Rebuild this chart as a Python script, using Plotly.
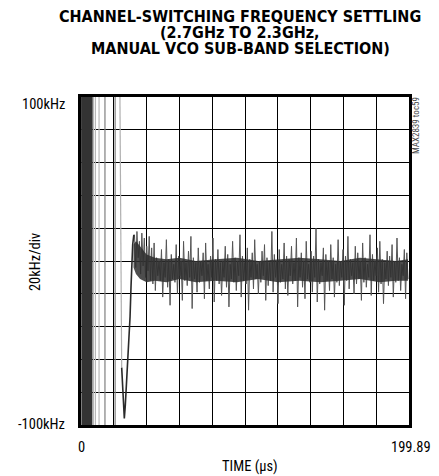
import numpy as np
import plotly.graph_objects as go

# Time axis (us) and frequency error (kHz)
T_END = 199.89

# Fast VCO band search at the start (off-scale swings)
burst_t = [0.6, 0.9, 1.2, 1.5, 1.8, 2.1, 2.4, 2.7, 3.0, 3.3, 3.6, 3.9,
           4.2, 4.5, 4.8, 5.1, 5.4, 5.7, 6.0, 6.3, 6.6]
burst_f = [150, -150, 150, -150, 150, -150, 150, -150, 150, -150, 150, -150,
           150, -150, 150, -150, 150, -150, 150, -150, 150]

swing_light_t = [7.6, 7.6, 8.8, 8.8, 11.0, 11.0]
swing_light_f = [150, -150, -150, 150, 150, -150]

swing_mid_t = [14.6, 14.6, 20.8, 20.8]
swing_mid_f = [150, -150, -150, 150]

# Final drop into the target band (light, fast part)
drop_t = [23.4, 24.0, 24.8]
drop_f = [150, 30, -65]

# Settling transient (dark)
settle_t = [24.8, 25.6, 26.4, 27.0, 28.0, 29.0, 29.9, 30.5, 30.9, 31.5, 32.2]
settle_f = [-65, -82, -96, -88, -70, -50, -34, -15, 0, 10, 16]

# Residual noise after lock
noise_f = [
    16, -4, 18, 2, 12, -8, 17, -3, 14, -10, 9, -6, 15, -12, 8, -14,
    11, -18, 2, -9, 0, -12, 7, -22, -1, -10, 13, -16, 1, -27, 4, -11,
    -2, -13, 10, -20, 3, -9, 0, -24, 12, -12, -1, -15, 6, -10, 15, -29,
    2, -11, -1, -19, 8, -13, 0, -9, 5, -23, 11, -12, -2, -17, 3, -10,
    14, -25, 1, -12, 7, -14, -1, -21, 0, -10, 9, -16, 4, -28, -2, -11,
    12, -13, 2, -18, 0, -9, 16, -22, 3, -12, -1, -14, 8, -30, 1, -10,
    5, -17, 13, -11, -2, -20, 0, -13, 6, -9, 10, -24, 2, -15, -1, -12,
    18, -19, 4, -10, 0, -26, 7, -13, -2, -11, 11, -17, 3, -21, 1, -9,
    9, -14, -1, -12, 14, -28, 2, -10, 5, -16, 0, -23, 12, -11, -2, -13,
    6, -19, 3, -10, 20, -25, 1, -14, -1, -9, 8, -30, 4, -12, 0, -18,
    10, -11, 2, -22, -2, -13, 13, -15, 0, -10, 7, -27, 3, -12, 15, -17,
    1, -9, -1, -20, 9, -14, 5, -11, 0, -24, 11, -13, 2, -16, -2, -10,
    16, -21, 4, -12, 0, -9, 8, -19, 12, -14, 1, -26, -1, -11, 6, -15,
    3, -10, 10, -22, 0, -13, 14, -12, 2, -18, -2, -9, 7, -23, 5, -11,
]
noise_t = np.linspace(32.6, 199.3, len(noise_f))

# Dense core of the noise (envelope)
band_t = [32.0, 33.5, 36, 40, 45, 52, 60, 70, 82, 95, 108, 120, 133,
          146, 158, 170, 182, 192, 199.3]
band_hi = [10, 12, 9, 4, 2, 1, 2, 0, 1, 2, 0, 1, 2,
           1, 0, 2, 1, 0, 1]
band_lo = [-4, -8, -11, -13, -12, -13, -11, -13, -12, -13, -11, -13, -12,
           -13, -12, -11, -13, -12, -12]

LABEL_FONT = "Liberation Sans Narrow, Roboto Condensed, DejaVu Sans Condensed, sans-serif"
TITLE_FONT = "DejaVu Sans Condensed, Liberation Sans, sans-serif"

fig = go.Figure()

fig.add_trace(go.Scatter(x=burst_t, y=burst_f, mode="lines",
                         line=dict(color="#333333", width=2)))
fig.add_trace(go.Scatter(x=swing_light_t, y=swing_light_f, mode="lines",
                         line=dict(color="#b8b8b8", width=1.2)))
fig.add_trace(go.Scatter(x=swing_mid_t, y=swing_mid_f, mode="lines",
                         line=dict(color="#808080", width=1.2)))
fig.add_trace(go.Scatter(x=drop_t, y=drop_f, mode="lines",
                         line=dict(color="#b0b0b0", width=1.2)))
fig.add_trace(go.Scatter(x=noise_t, y=noise_f, mode="lines",
                         line=dict(color="#555555", width=1)))
fig.add_trace(go.Scatter(x=band_t, y=band_hi, mode="lines",
                         line=dict(color="#333333", width=0)))
fig.add_trace(go.Scatter(x=band_t, y=band_lo, mode="lines", fill="tonexty",
                         fillcolor="rgba(46,46,46,0.85)", line=dict(color="#333333", width=0)))
fig.add_trace(go.Scatter(x=settle_t, y=settle_f, mode="lines",
                         line=dict(color="#2a2a2a", width=1.6)))

fig.update_xaxes(range=[0, T_END], dtick=T_END / 10, tick0=0,
                 showgrid=True, gridcolor="black", gridwidth=1,
                 showline=True, mirror=True, linecolor="black", linewidth=3,
                 showticklabels=False, ticks="", zeroline=False)
fig.update_yaxes(range=[-100, 100], dtick=20, tick0=-100,
                 showgrid=True, gridcolor="black", gridwidth=1,
                 showline=True, mirror=True, linecolor="black", linewidth=3,
                 showticklabels=False, ticks="", zeroline=False)

titles = [
    ("<b>CHANNEL-SWITCHING FREQUENCY SETTLING</b>", 1.245),
    ("<b>(2.7GHz TO 2.3GHz,</b>", 1.196),
    ("<b>MANUAL VCO SUB-BAND SELECTION)</b>", 1.147),
]
for text, y in titles:
    fig.add_annotation(text=text, x=0.485, y=y, xref="paper", yref="paper",
                       showarrow=False, xanchor="center", yanchor="middle",
                       font=dict(family=TITLE_FONT, size=16, color="black"))

labels = [
    ("100kHz", -0.043, 0.976, "right", 0),
    ("-100kHz", -0.043, 0.003, "right", 0),
    ("0", 0.0, -0.070, "center", 0),
    ("199.89", 1.006, -0.070, "center", 0),
    ("TIME (\u00b5s)", 0.515, -0.128, "center", 0),
    ("20kHz/div", -0.137, 0.497, "center", -90),
]
for text, x, y, xa, ang in labels:
    fig.add_annotation(text=text, x=x, y=y, xref="paper", yref="paper",
                       showarrow=False, xanchor=xa, yanchor="middle", textangle=ang,
                       font=dict(family=LABEL_FONT, size=14.5, color="black"))

fig.add_annotation(text="MAX2839 toc59", x=1.022, y=0.912, xref="paper", yref="paper",
                   showarrow=False, xanchor="center", yanchor="middle", textangle=-90,
                   font=dict(family=LABEL_FONT, size=9, color="#444444"))

# page body adds an 8px offset, so the figure is drawn 8px smaller
fig.update_layout(
    width=431, height=468,
    margin=dict(l=73, r=30, t=89, b=51),
    plot_bgcolor="white", paper_bgcolor="white",
    showlegend=False,
)

fig.write_html("out.html")
